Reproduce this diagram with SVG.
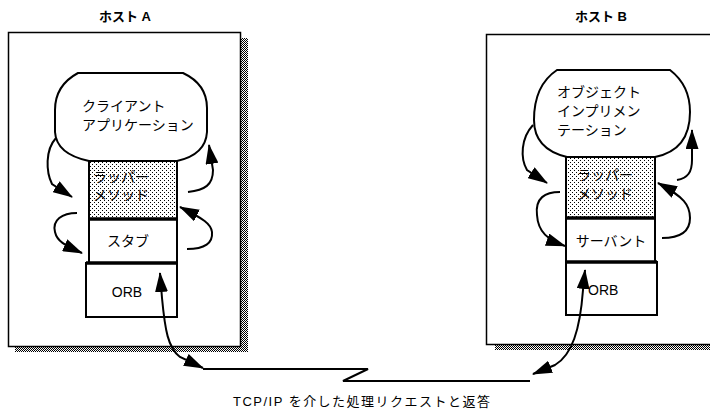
<svg xmlns="http://www.w3.org/2000/svg" width="710" height="412" viewBox="0 0 710 412">
<style>
text{font-family:"Liberation Sans","Noto Sans CJK JP",sans-serif;fill:#000}
.lbl{font-size:13px}
.hl{font-size:13px;font-weight:bold}
.t{font-size:14px}
.host{fill:#fff;stroke:#000;stroke-width:1.5}
.shadow{fill:url(#dither)}
.box{fill:#fff;stroke:#000;stroke-width:2}
.wrap{fill:url(#dots);stroke:#000;stroke-width:2}
.sep{stroke:#000;stroke-width:3.5}
.cloud{fill:#fff;stroke:#000;stroke-width:2}
.arr{fill:none;stroke:#000;stroke-width:2;marker-end:url(#ah)}
.bi{fill:none;stroke:#000;stroke-width:2;marker-start:url(#ahs);marker-end:url(#ah)}
.net{fill:none;stroke:#000;stroke-width:2}
</style>
<defs>
<pattern id="dither" width="2" height="2" patternUnits="userSpaceOnUse"><rect width="2" height="2" fill="#fff"/><rect width="1" height="1" fill="#000"/><rect x="1" y="1" width="1" height="1" fill="#000"/></pattern>
<pattern id="dots" width="4" height="4" patternUnits="userSpaceOnUse"><rect width="4" height="4" fill="#fff"/><rect width="1" height="1" fill="#000"/><rect x="2" y="2" width="1" height="1" fill="#000"/></pattern>
<marker id="ah" viewBox="0 0 20 13" refX="19" refY="6.5" markerWidth="20" markerHeight="13" markerUnits="userSpaceOnUse" orient="auto"><path d="M0,0 L20,6.5 L0,13 Z" fill="#000"/></marker>
<marker id="ahs" viewBox="0 0 20 13" refX="19" refY="6.5" markerWidth="20" markerHeight="13" markerUnits="userSpaceOnUse" orient="auto-start-reverse"><path d="M0,0 L20,6.5 L0,13 Z" fill="#000"/></marker>
</defs>
<rect width="710" height="412" fill="#fff"/>

<g id="hostA">
<rect class="shadow" x="241" y="38" width="7" height="314"/>
<rect class="shadow" x="15" y="347" width="233" height="5"/>
<rect class="host" x="8.5" y="32.5" width="232" height="314"/>
<text class="hl" x="125" y="21" text-anchor="middle">ホスト A</text>
</g>

<g id="hostB">
<rect class="shadow" x="495" y="345" width="215" height="5"/>
<rect class="host" x="486.5" y="34.5" width="230" height="310"/>
<text class="hl" x="601" y="21" text-anchor="middle">ホスト B</text>
</g>

<g id="cloudA">
<path class="cloud" d="M 89 161 C 70 157, 56 148, 55 132 L 55 110 C 55 92, 65 80, 78 73 L 183 73 C 198 80, 207 92, 207 108 L 207 132 C 206 148, 195 157, 177 161 Z"/>
<text class="t" x="82" y="111">クライアント</text>
<text class="t" x="82" y="130">アプリケーション</text>
</g>

<g id="wrapperA">
<rect class="wrap" x="89" y="161" width="88" height="58"/>
<text class="t" x="93" y="182">ラッパー</text>
<text class="t" x="93" y="200">メソッド</text>
</g>

<g id="stubA">
<rect class="box" x="89" y="219" width="88" height="44"/>
<text class="t" x="128" y="246" text-anchor="middle">スタブ</text>
</g>

<g id="orbA">
<rect class="box" x="86" y="263" width="91" height="54"/>
<text class="t" x="127" y="297" text-anchor="middle">ORB</text>
</g>
<line class="sep" x1="89" y1="219" x2="177" y2="219"/>
<line class="sep" x1="86" y1="263" x2="177" y2="263"/>

<g id="cloudB">
<path class="cloud" d="M 567 157 C 546 152, 534 140, 534 120 C 534 96, 542 80, 557 70 L 670 70 C 683 80, 690 95, 690 112 C 690 136, 680 152, 655 157 Z"/>
<text class="t" x="557" y="97">オブジェクト</text>
<text class="t" x="557" y="116">インプリメン</text>
<text class="t" x="557" y="135">テーション</text>
</g>

<g id="wrapperB">
<rect class="wrap" x="566" y="157" width="89" height="61"/>
<text class="t" x="577" y="180">ラッパー</text>
<text class="t" x="577" y="199">メソッド</text>
</g>

<g id="servantB">
<rect class="box" x="566" y="218" width="89" height="44"/>
<text class="t" x="611" y="246" text-anchor="middle">サーバント</text>
</g>

<g id="orbB">
<rect class="box" x="566" y="262" width="91" height="53"/>
<text class="t" x="588" y="295">ORB</text>
</g>
<line class="sep" x1="566" y1="218" x2="655" y2="218"/>
<line class="sep" x1="566" y1="262" x2="657" y2="262"/>

<g id="connectors">
<path class="arr" d="M 56 138 C 45 150, 46 172, 52 184 L 72 197"/>
<path class="arr" d="M 77 213 C 62 213, 52 220, 55 232 C 57 241, 64 245, 82 253"/>
<path class="arr" d="M 188 192 C 205 190, 213 185, 213 170 L 209 145"/>
<path class="arr" d="M 187 249 C 205 249, 213 243, 212 232 C 211 224, 204 219, 180 207"/>
<path class="arr" d="M 533 125 C 521 138, 520 158, 527 170 L 547 183"/>
<path class="arr" d="M 560 192 C 545 192, 535 198, 537 215 C 538 232, 548 240, 565 246"/>
<path class="arr" d="M 677 180 C 688 178, 692 172, 692 160 L 692 130"/>
<path class="arr" d="M 662 238 C 682 238, 690 230, 690 218 C 690 205, 684 197, 658 183"/>
<path class="bi" d="M 160 273 L 162 298 C 165 330, 168 348, 180 357 L 203 368"/>
<path class="bi" d="M 585 270 L 583 290 C 580 330, 572 355, 555 365 L 533 374"/>
<path class="net" d="M 203 369 L 368 369 L 343 381 L 530 381"/>
</g>

<g id="label">
<text class="lbl" x="233" y="406" textLength="257" lengthAdjust="spacing">TCP/IP を介した処理リクエストと返答</text>
</g>
</svg>
